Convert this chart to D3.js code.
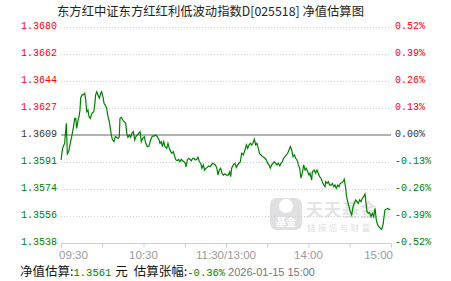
<!DOCTYPE html>
<html>
<head>
<meta charset="utf-8">
<script src="https://cdn.jsdelivr.net/npm/d3@7"></script>
<style>
  body { margin: 0; background: #fff; }
  svg { display: block; }
</style>
</head>
<body>
<div id="chart"></div>
<script>
// ---- data ----
var title = "东方红中证东方红红利低波动指数D[025518] 净值估算图"
var navLabels = ["1.3680", "1.3662", "1.3644", "1.3627", "1.3609", "1.3591", "1.3574", "1.3556", "1.3538"]
var pctLabels = ["0.52%", "0.39%", "0.26%", "0.13%", "0.00%", "-0.13%", "-0.26%", "-0.39%", "-0.52%"]
var pctTicks = [0.52, 0.39, 0.26, 0.13, 0, -0.13, -0.26, -0.39, -0.52]
var timeLabels = ["09:30", "10:30", "11:30/13:00", "14:00", "15:00"]
var timeTicks = [0, 60, 120, 180, 240]
var minorTicks = [0, 30, 60, 90, 120, 150, 180, 210, 240]

// minutes since 09:30 (lunch break removed) and estimated change in %
var minutes = [0, 1, 1.5, 2.7, 3.1, 3.9, 4.6, 5.6, 6.3, 7, 8, 8.9, 10, 10.7, 11.4, 12.4, 13.1, 13.8, 14.3, 15.3,
  16.2, 17.2, 18, 18.7, 19.6, 20.4, 21.3, 22.5, 23.8, 24.5, 25.2, 26, 26.9, 27.9, 28.9, 29.6, 30.5, 31.3, 32.2, 33.2,
  34.2, 35.1, 35.9, 36.6, 37.3, 38.5, 39.5, 40.5, 41.5, 42.4, 42.9, 43.9, 44.9, 45.8, 47.1, 47.8, 48.7, 49.7, 50.7, 51.6,
  52.6, 53.6, 54.5, 55.5, 56.5, 57.5, 58.4, 59.4, 60.6, 61.6, 62.8, 64, 65.2, 66.4, 67.6, 68.9, 70, 71.3, 72, 72.9,
  73.7, 74.7, 75.6, 76.9, 77.8, 78.8, 79.8, 80.7, 81.7, 82.7, 83.6, 84.6, 85.6, 86.5, 87.5, 88.5, 89.5, 90.4, 90.9, 91.9,
  92.9, 93.8, 94.8, 95.8, 96.7, 97.7, 98.7, 99.6, 100.6, 101.6, 102.5, 103.5, 104.5, 105.5, 106.4, 107.4, 108.4, 109.3, 110.3, 111.3,
  112.2, 113.2, 114.2, 115.1, 116.1, 117.1, 118, 119.1, 120.5, 121.7, 122.7, 123.4, 124.1, 125.3, 126.5, 127.5, 128.5, 129.5, 130.4, 131.4,
  132.6, 133.8, 134.8, 135.8, 136.7, 137.7, 138.7, 139.6, 140.6, 141.6, 142.5, 143.5, 144.5, 145.5, 146.4, 147.4, 148.4, 149.3, 150.3, 151.3,
  152.2, 153.2, 154.2, 155.1, 156.1, 157.1, 158, 159.1, 160, 160.9, 161.9, 162.9, 163.9, 164.9, 165.8, 166.8, 167.8, 168.7, 169.7, 170.7,
  171.6, 172.6, 173.6, 174.5, 175.5, 176.5, 177.5, 178.4, 179.4, 180.4, 181.1, 182.3, 182.8, 184.2, 185.2, 186.2, 187.1, 188.1, 189.1, 190,
  191.1, 192, 192.5, 193.5, 194.4, 195.4, 196.4, 197.3, 198.3, 199.3, 200.2, 201.2, 202.2, 203.1, 204.1, 205.1, 206, 207.1, 207.5, 208.5,
  209.5, 210.4, 211.4, 212.4, 213.3, 214.3, 215.3, 216.2, 217.2, 218.2, 219.1, 220.1, 221.1, 222, 222.5, 223.5, 224.5, 225.5, 226.4, 227.4,
  228.4, 229.3, 230.3, 231.3, 232.2, 233.2, 234.2, 235.1, 235.6, 236.6, 237.6, 238.5, 239.5]
var pct = [-0.120, -0.072, -0.056, -0.040, 0.000, 0.056, -0.091, -0.080, -0.056, -0.032, 0.000, 0.032, 0.080, 0.080, 0.032, 0.072, 0.088, 0.120, 0.177, 0.193,
  0.193, 0.201, 0.169, 0.112, 0.120, 0.088, 0.080, 0.104, 0.112, 0.144, 0.193, 0.208, 0.193, 0.177, 0.201, 0.208, 0.184, 0.153, 0.144, 0.129,
  0.088, 0.064, 0.032, 0.000, -0.021, -0.032, -0.008, -0.011, -0.016, -0.008, 0.080, 0.085, 0.072, 0.064, 0.056, 0.008, -0.011, 0.000, -0.011, 0.008,
  0.016, -0.024, -0.008, 0.000, 0.008, 0.016, -0.032, -0.016, -0.008, -0.040, -0.056, -0.053, -0.024, -0.005, -0.005, 0.000, -0.008, -0.024, -0.040, -0.032,
  -0.056, -0.032, -0.056, -0.064, -0.040, -0.064, -0.080, -0.088, -0.080, -0.104, -0.120, -0.124, -0.117, -0.129, -0.117, -0.124, -0.129, -0.136, -0.153, -0.120,
  -0.112, -0.117, -0.124, -0.112, -0.112, -0.120, -0.117, -0.107, -0.129, -0.136, -0.160, -0.144, -0.169, -0.160, -0.156, -0.149, -0.153, -0.144, -0.136, -0.140,
  -0.144, -0.156, -0.193, -0.169, -0.160, -0.184, -0.193, -0.188, -0.193, -0.193, -0.177, -0.201, -0.160, -0.144, -0.136, -0.156, -0.144, -0.136, -0.129, -0.088,
  -0.096, -0.072, -0.048, -0.064, -0.048, -0.040, -0.048, -0.040, -0.021, -0.048, -0.040, -0.064, -0.091, -0.096, -0.104, -0.107, -0.112, -0.120, -0.136, -0.144,
  -0.160, -0.144, -0.136, -0.129, -0.136, -0.144, -0.136, -0.149, -0.136, -0.129, -0.112, -0.104, -0.096, -0.088, -0.072, -0.056, -0.072, -0.104, -0.096, -0.112,
  -0.120, -0.144, -0.160, -0.208, -0.184, -0.144, -0.169, -0.160, -0.177, -0.193, -0.184, -0.217, -0.177, -0.169, -0.184, -0.169, -0.184, -0.201, -0.208, -0.225,
  -0.241, -0.249, -0.225, -0.233, -0.225, -0.241, -0.241, -0.233, -0.249, -0.241, -0.257, -0.241, -0.249, -0.233, -0.230, -0.225, -0.213, -0.257, -0.289, -0.321,
  -0.345, -0.369, -0.385, -0.345, -0.329, -0.313, -0.321, -0.329, -0.313, -0.321, -0.305, -0.297, -0.284, -0.337, -0.369, -0.377, -0.374, -0.393, -0.377, -0.393,
  -0.353, -0.409, -0.433, -0.442, -0.449, -0.454, -0.433, -0.385, -0.361, -0.358, -0.353, -0.358, -0.358]

var navNow = "1.3561"
var pctNow = "-0.36%"
var stamp = "2026-01-15 15:00"

// ---- layout ----
var width = 451
var height = 281
var plotLeft = 61
var plotRight = 391
var plotTop = 27
var plotBottom = 243

var red = "#ff0000"
var green = "#008000"
var dark = "#333333"
var mono = "'Liberation Mono', 'DejaVu Sans Mono', monospace"
var cjk = "'Noto Sans CJK SC', 'Noto Sans', sans-serif"

function labelColor(v) {
    if (v > 0) return red
    if (v < 0) return green
    return dark
}

var svg = d3.select("#chart")
            .append("svg")
            .attr("width", width)
            .attr("height", height)

var xScale = d3.scaleLinear()
                .domain([0, 240])
                .range([plotLeft, plotRight])

var yScale = d3.scaleLinear()
                .domain([-0.52, 0.52])
                .range([plotBottom, plotTop])

// Title
svg.append("text")
    .attr("x", 57)
    .attr("y", 16)
    .attr("font-family", cjk)
    .attr("font-size", 12.5)
    .attr("fill", "#222")
    .attr("textLength", 307)
    .attr("lengthAdjust", "spacingAndGlyphs")
    .text(title)

// Grid lines
svg.append("g")
    .selectAll("line")
    .data(pctTicks.filter(d => d !== 0 && d !== -0.52))
    .enter()
    .append("line")
    .attr("x1", plotLeft)
    .attr("x2", plotRight)
    .attr("y1", d => Math.round(yScale(d)) + 0.5)
    .attr("y2", d => Math.round(yScale(d)) + 0.5)
    .attr("stroke", "#cfcfcf")
    .attr("stroke-dasharray", "1,2")

// Watermark
var wm = svg.append("g").attr("opacity", 0.55)
wm.append("rect")
    .attr("x", 270).attr("y", 198)
    .attr("width", 32).attr("height", 32)
    .attr("rx", 7)
    .attr("fill", "#c8c8c8")
wm.append("circle")
    .attr("cx", 286).attr("cy", 206).attr("r", 7)
    .attr("fill", "#fff")
wm.append("text")
    .attr("x", 286).attr("y", 226)
    .attr("text-anchor", "middle")
    .attr("font-family", cjk)
    .attr("font-size", 10)
    .attr("font-weight", "bold")
    .attr("fill", "#fff")
    .text("基金")
wm.append("text")
    .attr("x", 306).attr("y", 216)
    .attr("font-family", cjk)
    .attr("font-size", 17)
    .attr("font-weight", "bold")
    .attr("fill", "#cfcfcf")
    .attr("textLength", 71)
    .text("天天基金")
wm.append("text")
    .attr("x", 307).attr("y", 231)
    .attr("font-family", cjk)
    .attr("font-size", 8.5)
    .attr("fill", "#c8c8c8")
    .attr("textLength", 63)
    .text("链接您与财富")

// Base line (previous NAV)
svg.append("line")
    .attr("x1", plotLeft)
    .attr("x2", plotRight)
    .attr("y1", yScale(0))
    .attr("y2", yScale(0))
    .attr("stroke", "#999")
    .attr("stroke-width", 1.5)

// Bottom axis
var xAxis = d3.axisBottom(xScale)
                .tickValues(minorTicks)
                .tickSize(4)
                .tickFormat("")
var axisG = svg.append("g")
    .attr("transform", "translate(0," + (plotBottom + 0.5) + ")")
    .call(xAxis)
axisG.select(".domain").attr("stroke", "#c5d2df").attr("d", "M" + plotLeft + ",0H" + plotRight)
axisG.selectAll(".tick line").attr("stroke", "#c5d2df")

// Time labels
svg.append("g")
    .selectAll("text")
    .data(timeTicks)
    .enter()
    .append("text")
    .attr("x", (d, i) => i === 0 ? xScale(d) - 2 : (i === timeTicks.length - 1 ? xScale(d) + 2 : xScale(d)))
    .attr("y", 259)
    .attr("text-anchor", (d, i) => i === 0 ? "start" : (i === timeTicks.length - 1 ? "end" : "middle"))
    .attr("font-family", "'Liberation Sans', Arial, sans-serif")
    .attr("font-size", 11.5)
    .attr("fill", "#9a9a9a")
    .text((d, i) => timeLabels[i])

// Left NAV labels
svg.append("g")
    .selectAll("text")
    .data(pctTicks)
    .enter()
    .append("text")
    .attr("x", 57)
    .attr("y", d => yScale(d) + 2)
    .attr("text-anchor", "end")
    .attr("font-family", mono)
    .attr("font-size", 10)
    .attr("fill", d => labelColor(d))
    .text((d, i) => navLabels[i])

// Right percent labels
svg.append("g")
    .selectAll("text")
    .data(pctTicks)
    .enter()
    .append("text")
    .attr("x", 395)
    .attr("y", d => yScale(d) + 2)
    .attr("font-family", mono)
    .attr("font-size", 10)
    .attr("fill", d => labelColor(d))
    .text((d, i) => pctLabels[i])

// Estimate line
var series = minutes.map((m, i) => ({ m: m, v: pct[i] }))
var line = d3.line()
            .x(d => xScale(d.m))
            .y(d => yScale(d.v))
svg.append("path")
    .datum(series)
    .attr("d", line)
    .attr("fill", "none")
    .attr("stroke", green)
    .attr("stroke-width", 1.2)

// Footer
var foot = svg.append("text")
    .attr("x", 20)
    .attr("y", 276)
    .attr("font-size", 12.5)
    .attr("font-family", cjk)
    .attr("fill", "#111")
foot.append("tspan").text("净值估算:")
foot.append("tspan").attr("font-family", mono).attr("font-size", 10.5).attr("fill", green).text(navNow)
foot.append("tspan").attr("dx", 4).text("元")
foot.append("tspan").attr("dx", 6).text("估算张幅:")
foot.append("tspan").attr("font-family", mono).attr("font-size", 10.5).attr("fill", green).text(pctNow)
foot.append("tspan").attr("dx", 3).attr("font-family", "'Liberation Sans', Arial, sans-serif").attr("font-size", 11).attr("fill", "#777").text(stamp)
</script>
</body>
</html>
